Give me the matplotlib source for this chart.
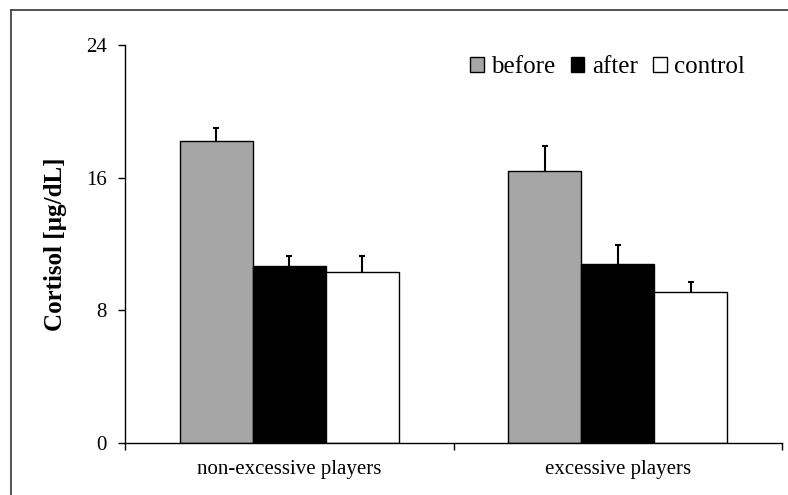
import matplotlib.pyplot as plt
import numpy as np
from matplotlib.lines import Line2D

groups = ['non-excessive players', 'excessive players']
series = ['before', 'after', 'control']
before = [18.2, 16.4]
after = [10.7, 10.8]
control = [10.3, 9.1]
err_before = [0.8, 1.5]
err_after = [0.6, 1.15]
err_control = [0.95, 0.62]
yticks = [0, 8, 16, 24]

colors = ['#a6a6a6', '#000000', '#ffffff']

plt.rcParams['font.family'] = ['Liberation Serif', 'DejaVu Serif']

fig = plt.figure(figsize=(7.88, 4.95), dpi=100)
ax = fig.add_axes([125/788, 1-443/495, (782-125)/788, (443-45)/495])

x = np.arange(len(groups))
w = 0.222
vals = [before, after, control]
errs = [err_before, err_after, err_control]
for i, (name, v, e, c) in enumerate(zip(series, vals, errs, colors)):
    xs = x + (i-1)*w
    v = np.array(v)
    e = np.array(e)
    ax.bar(xs, v, width=w, color=c, edgecolor='black', linewidth=1.0,
           label=name, zorder=2)
    # upper error bar only, cap on top
    ax.vlines(xs, v, v + e, color='black', lw=1.5, zorder=3)
    ax.plot(xs, v + e, ls='none', marker='_', ms=5, mew=1.5, color='black', zorder=3)

ax.set_xlim(-0.5, 1.5)
ax.set_ylim(0, 24)
ax.set_yticks(yticks)
ax.set_yticklabels([str(t) for t in yticks], fontsize=15)
ax.set_xticks(x)
ax.set_xticklabels(groups, fontsize=15)
ax.set_xticks([-0.5, 0.5, 1.5], minor=True)
ax.tick_params(axis='x', which='major', length=0, pad=12)
ax.tick_params(axis='x', which='minor', length=5, width=1, direction='out')
ax.tick_params(axis='y', length=5, width=1, direction='out', pad=8)
for s in ['top', 'right']:
    ax.spines[s].set_visible(False)
for s in ['left', 'bottom']:
    ax.spines[s].set_linewidth(1.0)

ax.set_ylabel('Cortisol [µg/dL]', fontsize=18, fontweight='bold', labelpad=14)

leg = fig.legend(loc='center', bbox_to_anchor=(0.771, 1-67/495), ncol=3, frameon=False,
                 fontsize=18, handlelength=0.55, handleheight=0.55, handletextpad=0.3,
                 columnspacing=0.6, borderpad=0)

# figure frame (top and left edges visible)
fig.add_artist(Line2D([11/788, 1], [1-10/495, 1-10/495], color='#444444', lw=1.3,
                      transform=fig.transFigure))
fig.add_artist(Line2D([11/788, 11/788], [0, 1-10/495], color='#444444', lw=1.3,
                      transform=fig.transFigure))

fig.savefig('out.png', dpi=100)
